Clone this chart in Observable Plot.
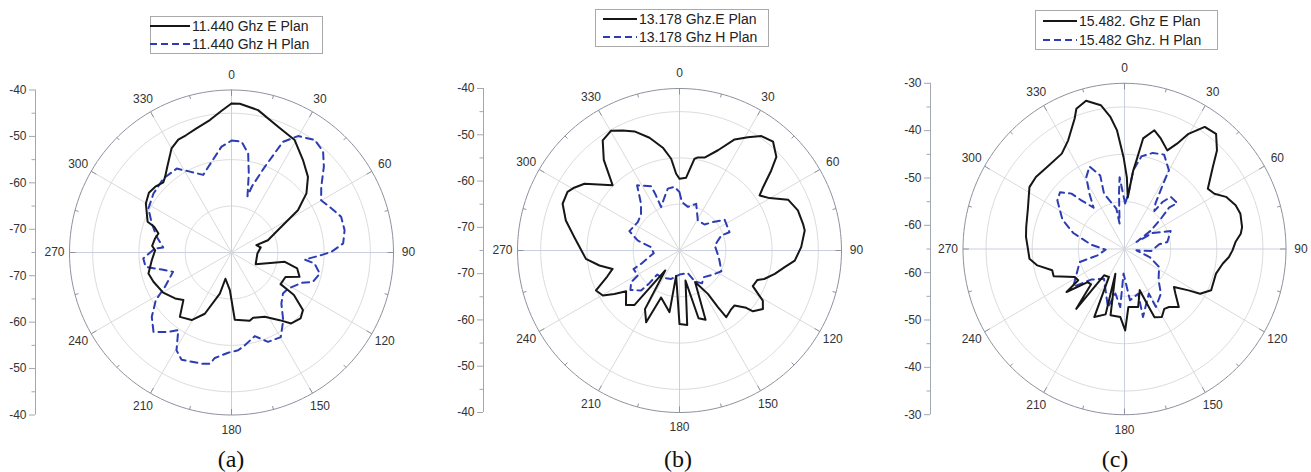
<!DOCTYPE html>
<html><head><meta charset="utf-8">
<script src="https://cdn.jsdelivr.net/npm/d3@7"></script>
<script src="https://cdn.jsdelivr.net/npm/@observablehq/plot@0.6"></script>
<style>
body{margin:0;background:#fff;width:1311px;height:472px;position:relative;overflow:hidden;font-family:Arial,"Liberation Sans",sans-serif}
.panel{position:absolute;top:0}
.legend{position:absolute;border:1px solid #a9a9a9;background:#fff;font-size:14px;color:#222;box-sizing:border-box}
.legend .row{position:absolute;display:flex;align-items:center;white-space:nowrap;height:18px;line-height:18px}
.legend svg{display:block;margin-right:2px}
.cap{position:absolute;top:446px;font-family:"Liberation Serif","Times New Roman",serif;font-size:24px;line-height:26px;color:#111;transform:translateX(-50%)}
</style></head><body>
<div id="root"></div>
<script>
// ---------- data (angle in degrees, gain in dB) ----------
const panelLabels = ["(a)", "(b)", "(c)"];
const legendE = ["11.440 Ghz E Plan", "13.178 Ghz.E Plan", "15.482. Ghz E Plan"];
const legendH = ["11.440 Ghz H Plan", "13.178 Ghz H Plan", "15.482 Ghz. H Plan"];
const angleTicks = [0, 30, 60, 90, 120, 150, 180, 210, 240, 270, 300, 330];
const radialMin = [-75, -75, -65];
const radialMax = [-40, -40, -30];

const aEAngle = [0,3.2,10.6,20.4,29.4,37.8,45.4,51.8,57.6,62.8,71.4,73.7,80.3,92.2,115.9,99.9,103.6,109.6,114.3,122.7,123.6,124.2,128.8,133.6,139.8,144.5,152.6,161.6,165,177.2,182.5,193,195.9,203.6,210.6,218.8,225.4,230.9,239.7,249.5,255.9,264.5,271.7,274.7,280.3,284.5,288.4,290.1,299.7,305.8,311.1,315.7,318.6,323.1,330,334.7,338.7,344.2,350.7,356];
const aEdB = [-42.9,-42.9,-43.8,-46.1,-47.2,-49.8,-51.8,-54.4,-58.0,-62.9,-66.7,-69.4,-68.6,-69.4,-69.2,-63.3,-60.4,-59.4,-62.2,-62.4,-60.3,-58.7,-55.2,-54.4,-55.0,-57.1,-59.4,-60.2,-59.8,-60.5,-66.9,-69.2,-65.8,-60.6,-58.1,-57.2,-60.4,-59.3,-57.9,-57.0,-56.5,-57.7,-58.5,-57.8,-58.2,-58.7,-57.4,-55.7,-53.7,-53.0,-53.3,-53.9,-53.3,-51.9,-49.1,-48.1,-47.9,-47.2,-46.1,-44.4];
const aHAngle = [0,5.2,9.6,12.4,15.9,17.3,21.3,25.0,29.8,36.6,42.3,47.2,53.9,59.8,66.3,72.0,78.9,85.4,89.6,91.7,95.5,97.5,103.4,109.8,113.4,122.4,128.4,135.6,142.6,149.7,157.7,164.4,171.8,176.1,181.9,189,191,195.1,205,209.4,214.5,218.6,224.6,231.2,237.9,242.7,251.7,256.3,260.5,266.1,273,274.2,281.8,289.9,297.8,307,317.3,326.8,332.7,339.9,347.6,354.6];
const aHdB = [-50.9,-51.0,-53.4,-57.6,-62.4,-60.0,-55.2,-48.7,-46.1,-44.8,-45.6,-47.8,-51.0,-52.6,-51.4,-50.1,-50.1,-50.8,-53.4,-55.6,-59.1,-56.9,-55.4,-56.3,-58.5,-60.5,-60.8,-59.6,-56.6,-53.9,-54.2,-56.3,-54.8,-53.9,-53.4,-52.0,-50.6,-50.2,-49.5,-50.8,-54.7,-53.1,-51.0,-52.9,-55.7,-58.8,-61.7,-59.5,-56.2,-55.9,-58.4,-60.2,-58.5,-56.7,-54.7,-53.9,-53.3,-53.4,-55.4,-57.2,-55.0,-52.1];

const bEAngle = [0,5.2,9.3,11.2,15.1,21,26.4,31.1,35.6,40.7,46,48.9,52.8,55.5,59.8,64.9,71.3,77.8,80.9,88.4,95,99,103.8,108.6,110.7,115.9,118.9,121,125,129.6,130.7,135,138.5,145,145.9,146.8,153.7,159.4,164.3,168.7,174.1,180,187.6,189.2,201.4,204.9,210.5,215.6,219.6,224.5,232.7,236.3,239.6,244.4,250.2,254.6,259.4,264.9,277.2,284.8,291.8,297.6,300.8,305.1,314.3,320.1,325.1,330.2,334.7,339.3,345.1,350.8,354.8,357.5];
const bEdB = [-59.5,-59.2,-54.9,-54.5,-54.2,-51.8,-48.2,-46.4,-44.6,-44.0,-45.9,-48.7,-52.3,-54.0,-52.5,-49.1,-48.0,-47.7,-47.6,-48.7,-50.0,-52.0,-53.8,-55.7,-57.0,-57.4,-55.6,-54.0,-53.0,-54.4,-56.0,-58.2,-58.1,-57.4,-60.2,-63.8,-67.4,-59.0,-59.8,-68.4,-58.8,-59.1,-69.5,-61.5,-64.1,-57.9,-60.3,-69.7,-59.7,-58.5,-60.5,-58.1,-55.8,-55.0,-58.4,-60.0,-57.4,-54.7,-52.1,-49.6,-47.8,-47.7,-48.5,-49.9,-54.8,-49.5,-46.0,-45.2,-46.3,-47.5,-49.8,-52.5,-55.1,-58.4];
const bHAngle = [0,2.8,10.9,19.7,31.4,43.9,49.6,55.7,69.9,70.2,81.9,94,104,116.4,125.8,137.6,145.6,153.9,159.8,180,196.4,211.4,222.9,222.6,223.8,231.2,236.8,239,248.1,250.8,264.1,276.7,283.5,291.1,304.2,313.2,320.6,326,326.9,336.1,336.8,337.1,344.1,349.3,355.5];
const bHdB = [-62.4,-64.5,-65.4,-64.3,-67.4,-67.2,-65.5,-63.2,-63.5,-65.4,-67.3,-66.8,-66.1,-64.9,-66.1,-67.2,-66.4,-67.6,-69.8,-69.8,-68.6,-68.1,-67.9,-65.4,-63.0,-61.4,-62.5,-64.5,-64.3,-66.2,-69.4,-68.8,-65.7,-63.4,-64.1,-63.6,-61.9,-58.9,-58.2,-59.8,-61.7,-64.8,-63.1,-61.4,-61.2];

const cEAngle = [3.7,6.5,7.9,9.8,14.5,18.7,24,27.1,29.7,34,39.2,43.9,47.9,54.8,59.1,63.4,69,73.5,79.7,82.7,86.5,90.7,94.3,98.3,104.7,114.9,120,122.2,126.9,130.5,136.2,141.8,145.7,150.6,155.7,156.9,159.2,166.4,176.1,179.5,183.6,192.2,200.7,196.5,204.5,209.7,218.6,219.6,224.2,228.8,234.1,236.7,241.2,249.4,254,259.6,264.3,271.2,276.8,282.3,292.1,302.4,308.4,315.9,326,332,338.6,340.6,345.1,350.4,353.8,356.3,359.4,1.9];
const cEdB = [-54.1,-48.3,-46.1,-41.3,-39.1,-40.4,-42.2,-40.0,-37.0,-33.9,-33.6,-36.1,-39.2,-42.9,-42.3,-40.4,-39.2,-38.8,-39.1,-39.6,-40.9,-41.6,-42.3,-43.5,-44.5,-44.3,-46.1,-48.6,-51.6,-50.5,-48.0,-49.4,-49.7,-48.5,-49.2,-52.1,-55.7,-52.4,-52.7,-47.8,-50.6,-50.7,-59.4,-50.6,-49.2,-58.2,-57.9,-48.6,-54.6,-54.4,-49.5,-53.0,-52.7,-48.6,-48.7,-45.8,-44.3,-44.0,-43.5,-43.2,-42.4,-40.6,-40.5,-40.9,-40.7,-39.0,-35.4,-33.6,-32.6,-34.2,-37.0,-39.9,-45.6,-49.8];
const cHAngle = [0.8,4.1,6.5,10.6,16.8,23.3,30.1,31.5,34.9,38.9,39.7,42.3,49.6,47.9,50.9,55.7,60.4,61.1,69.2,81,82.5,94.2,96.2,107.3,116.8,131.8,140.1,150.9,150.8,164.4,162.6,173.7,182.3,184.3,191.8,196.3,215.3,228.2,234.2,254.2,257.1,268,277.2,286.9,294.7,305.2,310.6,315.5,317.7,322.5,326.9,331.4,336.5,341.3,339.2,348.3,348.8,354.2,356];
const cHdB = [-55.4,-53.3,-48.3,-45.1,-43.8,-43.3,-45.8,-49.2,-53.3,-54.7,-52.1,-50.1,-50.0,-52.0,-54.8,-58.0,-62.0,-58.0,-54.3,-55.6,-57.4,-59.2,-62.4,-59.3,-56.6,-55.1,-52.7,-51.0,-54.2,-50.1,-55.1,-54.1,-59.8,-52.7,-55.4,-52.2,-57.3,-55.3,-51.3,-54.9,-59.0,-60.9,-57.7,-53.4,-50.2,-47.2,-46.6,-48.6,-51.1,-54.0,-51.1,-47.7,-46.0,-48.6,-52.5,-56.3,-59.5,-53.2,-49.8];

// ---------- layout (pixels) ----------
const layouts = [
  {left: 0,   w: 437, cx: 231, cy: 252, rx: 162, ry: 162.5, axisX: 35,
   legend: {left: 150, top: 16, w: 173, h: 38, pad: 0, sample: 40, rows: [0, 18]}},
  {left: 437, w: 437, cx: 242, cy: 250, rx: 162, ry: 162, axisX: 46,
   legend: {left: 595, top: 9, w: 174, h: 38, pad: 8, sample: 34, rows: [0, 18]}},
  {left: 874, w: 437, cx: 250, cy: 248.5, rx: 161.5, ry: 165.7, axisX: 56,
   legend: {left: 1035, top: 10, w: 183, h: 40, pad: 8, sample: 34, rows: [1, 20]}}
];
const capX = [231, 678, 1115];
const labelGap = 15; // px between outer circle and angle labels

const series = [
  [aEAngle, aEdB, aHAngle, aHdB],
  [bEAngle, bEdB, bHAngle, bHdB],
  [cEAngle, cEdB, cHAngle, cHdB]
];

const E_COLOR = "#161616", H_COLOR = "#2c3db4";
const root = document.getElementById("root");

function makePanel(i) {
  const L = layouts[i];
  const min = radialMin[i], max = radialMax[i];
  const R = max - min;
  const kx = L.rx / R, ky = L.ry / R; // px per dB
  const rad = d => d * Math.PI / 180;
  const pol = (a, r) => ({x: r * Math.sin(rad(a)), y: r * Math.cos(rad(a))});
  const trace = (A, V) => {
    const n = Math.min(A.length, V.length);
    const pts = [];
    for (let j = 0; j < n; j++) pts.push(pol(A[j], Math.max(0, V[j] - min)));
    pts.push(pts[0]);
    return pts;
  };
  const [eA, eV, hA, hV] = series[i];
  const E = trace(eA, eV), H = trace(hA, hV);

  const ringVals = d3.range(max - 5, min, -10).map(v => v - min).filter(r => r > 0 && r < R);
  const circ = r => d3.range(0, 361, 2).map(t => ({...pol(t, r), ring: r}));
  const rings = ringVals.flatMap(circ);
  const outer = circ(R);
  const spokes = angleTicks.map(t => ({t, ...pol(t, R), main: t % 90 === 0}));
  const ticks = d3.range(0, 360, 15).map(t => {
    const len = (t % 30 === 0 ? 6 : 3.5) / ((kx + ky) / 2);
    const a = pol(t, R), b = pol(t, R - len);
    return {x1: a.x, y1: a.y, x2: b.x, y2: b.y};
  });
  const labels = angleTicks.map(t => ({t,
    x: (R + labelGap / kx) * Math.sin(rad(t)),
    y: (R + labelGap / ky) * Math.cos(rad(t))}));
  const majorR = d3.range(5, R + 0.1, 10);
  const majorTicks = [...majorR.map(v => -v), ...majorR];
  const minorR = d3.range(0, R, 10);
  const minorTicks = [...minorR.map(v => -v).filter(v => v !== 0), ...minorR];
  const axisXData = (L.axisX - L.cx) / kx;

  const svg = Plot.plot({
    width: L.w, height: 472,
    marginLeft: L.axisX, marginRight: 0,
    marginTop: L.cy - L.ry, marginBottom: 472 - (L.cy + L.ry),
    x: {domain: [-R, R], range: [L.cx - L.rx, L.cx + L.rx], axis: null},
    y: {domain: [-R, R], axis: null},
    style: {fontSize: "12px", fontFamily: "Arial, 'Liberation Sans', sans-serif", background: "transparent", overflow: "visible"},
    marks: [
      Plot.line(rings, {x: "x", y: "y", z: "ring", stroke: "#dcdcdc", strokeWidth: 1}),
      Plot.link(spokes, {x1: 0, y1: 0, x2: "x", y2: "y", stroke: d => d.main ? "#c9cfdc" : "#dadada", strokeWidth: 1}),
      Plot.line(outer, {x: "x", y: "y", stroke: "#8e929e", strokeWidth: 1}),
      Plot.link(ticks, {x1: "x1", y1: "y1", x2: "x2", y2: "y2", stroke: "#8e929e", strokeWidth: 1}),
      Plot.text(labels, {x: "x", y: "y", text: d => String(d.t), fill: "#333", fontSize: 12, textAnchor: "middle"}),
      Plot.ruleX([axisXData], {y1: -R, y2: R, stroke: "#a3a7b2", strokeWidth: 1}),
      Plot.axisY({ticks: majorTicks, tickSize: 6, tickPadding: 3, stroke: "#a3a7b2", fill: "#333",
        tickFormat: d => String(min + Math.abs(d)), fontSize: 12}),
      Plot.axisY({ticks: minorTicks, tickSize: 3.5, stroke: "#a3a7b2", tickFormat: () => ""}),
      Plot.line(H, {x: "x", y: "y", stroke: H_COLOR, strokeWidth: 2, strokeDasharray: "7,5", strokeLinejoin: "round"}),
      Plot.line(E, {x: "x", y: "y", stroke: E_COLOR, strokeWidth: 2, strokeLinejoin: "round"})
    ]
  });
  const holder = document.createElement("div");
  holder.className = "panel";
  holder.style.left = L.left + "px";
  holder.appendChild(svg);
  root.appendChild(holder);

  // legend
  const lg = document.createElement("div");
  lg.className = "legend";
  const G = L.legend;
  Object.assign(lg.style, {left: G.left + "px", top: G.top + "px", width: G.w + "px", height: G.h + "px"});
  [[legendE[i], E_COLOR, null], [legendH[i], H_COLOR, "7,4"]].forEach(([txt, col, dash], j) => {
    const row = document.createElement("div");
    row.className = "row";
    row.style.left = (G.pad - 1) + "px";
    row.style.top = G.rows[j] + "px";
    row.innerHTML = `<svg width="${G.sample}" height="18"><line x1="0" x2="${G.sample}" y1="9" y2="9" stroke="${col}" stroke-width="2" ${dash ? `stroke-dasharray="${dash}"` : ""}/></svg><span>${txt}</span>`;
    lg.appendChild(row);
  });
  root.appendChild(lg);

  const cap = document.createElement("div");
  cap.className = "cap";
  cap.style.left = capX[i] + "px";
  cap.textContent = panelLabels[i];
  root.appendChild(cap);
}

[0, 1, 2].forEach(makePanel);
</script>
</body></html>
